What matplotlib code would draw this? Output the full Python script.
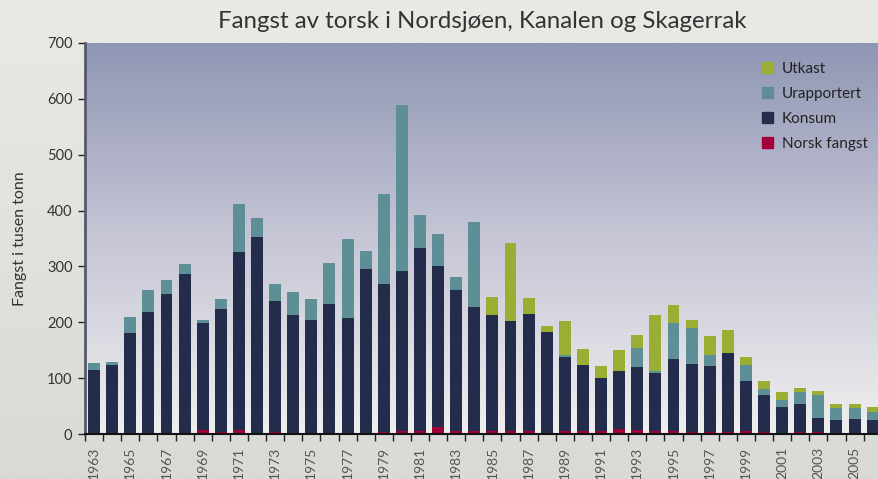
import numpy as np
import matplotlib
matplotlib.use('Agg')
import matplotlib.pyplot as plt
from matplotlib.patches import Patch
from matplotlib.colors import LinearSegmentedColormap

plt.rcParams['font.family'] = ['Lato', 'DejaVu Sans']

# Data (tusen tonn)
years = list(range(1963, 2007))
konsum = [115, 124, 180, 219, 251, 287, 199, 224, 326, 353,
          238, 213, 204, 233, 208, 296, 269, 292, 333, 301,
          258, 228, 213, 203, 215, 183, 138, 124, 101, 113,
          120, 109, 134, 125, 122, 145, 95, 70, 48, 54,
          29, 25, 27, 25]
urapportert = [13, 5, 30, 39, 25, 18, 5, 18, 86, 34,
               31, 42, 38, 73, 141, 32, 161, 297, 59, 57,
               23, 152, 0, 0, 0, 0, 3, 0, 0, 0,
               34, 4, 65, 65, 19, 0, 28, 10, 13, 21,
               41, 21, 20, 14]
utkast = [0, 0, 0, 0, 0, 0, 0, 0, 0, 0,
          0, 0, 0, 0, 0, 0, 0, 0, 0, 0,
          0, 0, 33, 139, 29, 11, 62, 29, 20, 38,
          23, 100, 32, 14, 34, 41, 15, 14, 14, 7,
          7, 7, 7, 9]
norsk = [0, 0, 0, 0, 0, 0, 8, 4, 8, 2,
         4, 1, 1, 1, 1, 1, 3, 5, 6, 12,
         6, 6, 5, 5, 5, 2, 5, 5, 5, 9,
         7, 5, 5, 4, 4, 4, 5, 4, 2, 4,
         4, 2, 2, 2]

c_konsum = '#232d4b'
c_urap = '#5f8f96'
c_utkast = '#9aae33'
c_norsk = '#a2003a'

fig = plt.figure(figsize=(8.79, 4.79), dpi=100)

# figur-bakgrunn med svak gradient
bg = fig.add_axes([0, 0, 1, 1], zorder=-10)
bg_cmap = LinearSegmentedColormap.from_list('bg', ['#d9d9d5', '#e9e9e5'])
bg.imshow(np.linspace(0, 1, 256).reshape(-1, 1), cmap=bg_cmap, aspect='auto',
          extent=[0, 1, 0, 1], origin='lower')
bg.axis('off')

ax = fig.add_axes([85 / 879, 1 - 434 / 479, 794 / 879, 391 / 479])
ax.patch.set_alpha(0)

# plot-bakgrunn med gradient
grad_cmap = LinearSegmentedColormap.from_list('plot', ['#efefef', '#c6c6d6', '#8f96b4'])
ax.imshow(np.linspace(0, 1, 256).reshape(-1, 1), cmap=grad_cmap, aspect='auto',
          extent=[1962.5, 2006.4, 0, 700], origin='lower', zorder=0)

x = np.array(years)
k = np.array(konsum)
u = np.array(urapportert)
w = 0.66
ax.bar(x, konsum, width=w, color=c_konsum, zorder=2)
ax.bar(x, urapportert, width=w, bottom=k, color=c_urap, zorder=2)
ax.bar(x, utkast, width=w, bottom=k + u, color=c_utkast, zorder=2)
ax.bar(x, norsk, width=w, color=c_norsk, zorder=3)

ax.set_xlim(1962.5, 2006.35)
ax.set_ylim(0, 700)
ax.set_yticks(range(0, 701, 100))
ax.tick_params(axis='y', length=5, width=1, colors='#222222', labelsize=10.5,
               labelcolor='#333333', pad=4)

odd = [y for y in years if y % 2 == 1]
ax.set_xticks(odd)
ax.set_xticklabels([str(y) for y in odd], rotation=90, va='top', ha='center')
ax.tick_params(axis='x', length=0, labelsize=10, labelcolor='#555555', pad=9)
ax.set_xticks(np.arange(1962.5, 2006.5, 1), minor=True)
ax.tick_params(axis='x', which='minor', length=5, width=1, colors='#222222')

for side in ['top', 'right']:
    ax.spines[side].set_visible(False)
ax.spines['left'].set_color('#555a6a')
ax.spines['left'].set_linewidth(2)
ax.spines['bottom'].set_color('#111111')
ax.spines['bottom'].set_linewidth(1.5)
ax.spines['bottom'].set_zorder(4)

ax.set_ylabel('Fangst i tusen tonn', fontsize=11.5, color='#333333', labelpad=14)
fig.text(482 / 879, 1 - 22 / 479, 'Fangst av torsk i Nordsjøen, Kanalen og Skagerrak',
         ha='center', va='center', fontsize=17.3, color='#333333')

handles = [Patch(color=c_utkast), Patch(color=c_urap), Patch(color=c_konsum), Patch(color=c_norsk)]
labels = ['Utkast', 'Urapportert', 'Konsum', 'Norsk fangst']
leg = ax.legend(handles, labels, loc='upper left', bbox_to_anchor=(762 / 879, 1 - 62 / 479),
                bbox_transform=fig.transFigure, frameon=False, fontsize=11,
                handlelength=0.7, handleheight=0.7, handletextpad=0.6, labelspacing=0.72,
                borderaxespad=0, borderpad=0)
for t in leg.get_texts():
    t.set_color('#222222')

fig.savefig('out.png', dpi=100)
